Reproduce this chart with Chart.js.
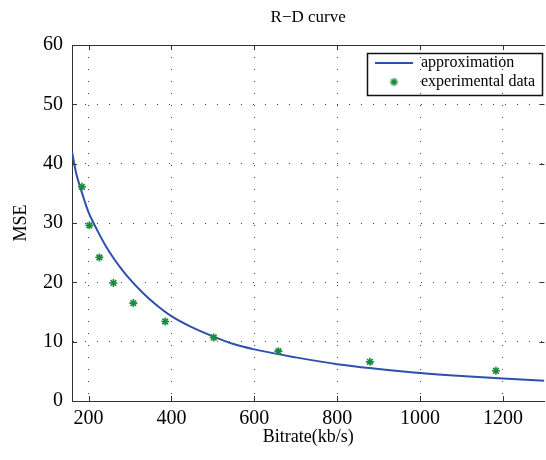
<!DOCTYPE html>
<html>
<head>
<meta charset="utf-8">
<style>
  html, body { margin: 0; padding: 0; background: #fff; overflow: hidden; }
  canvas { display: block; }
</style>
<script src="https://cdn.jsdelivr.net/npm/chart.js@4.4.1/dist/chart.umd.min.js"></script>
</head>
<body>
<canvas id="rd" width="550" height="460"></canvas>
<script>
// experimental points
const bitrate = [184, 202, 226, 260, 308, 385, 502, 658, 879, 1183];
const mse = [36.1, 29.6, 24.2, 19.9, 16.5, 13.4, 10.7, 8.4, 6.6, 5.1];

// approximation curve
const fitRate = [160, 170, 180, 190, 200, 212, 220, 240, 260, 280, 300, 330, 360, 400, 450, 500, 550, 600, 700, 800, 900, 1000, 1100, 1200, 1300];
const fitMse = [42.0, 38.4, 36.0, 33.8, 31.8, 30.0, 28.9, 26.3, 24.1, 22.2, 20.5, 18.3, 16.4, 14.3, 12.4, 10.9, 9.6, 8.7, 7.35, 6.2, 5.4, 4.72, 4.2, 3.78, 3.42];

const xTicks = [200, 400, 600, 800, 1000, 1200];
const yTicks = [0, 10, 20, 30, 40, 50, 60];

const serif = '"Liberation Serif", "Times New Roman", serif';
Chart.defaults.font.family = serif;
Chart.defaults.color = '#000';

const axisColor = '#333';
const starColor = '#178a3e';
const gridDots = { color: '#444', lineWidth: 1, drawTicks: false };

// small asterisk for the legend entry
const starImg = document.createElement('canvas');
starImg.width = 11; starImg.height = 11;
(function () {
  const c = starImg.getContext('2d');
  c.strokeStyle = starColor;
  c.lineWidth = 1.6;
  c.beginPath();
  c.moveTo(5.5, 1.5); c.lineTo(5.5, 9.5);
  c.moveTo(1.5, 5.5); c.lineTo(9.5, 5.5);
  c.moveTo(2.7, 2.7); c.lineTo(8.3, 8.3);
  c.moveTo(8.3, 2.7); c.lineTo(2.7, 8.3);
  c.stroke();
})();

// inward tick marks + legend frame
const matlabBox = {
  id: 'matlabBox',
  afterLayout(chart) {
    const lg = chart.legend;
    lg.left = 372; lg.right = 545;
    lg.top = 52; lg.bottom = 96;
  },
  afterDraw(chart) {
    const { ctx, chartArea: a, scales } = chart;
    ctx.save();
    ctx.strokeStyle = axisColor;
    ctx.lineWidth = 1;
    ctx.beginPath();
    xTicks.forEach(v => {
      const x = Math.round(scales.x.getPixelForValue(v)) + 0.5;
      ctx.moveTo(x, a.bottom); ctx.lineTo(x, a.bottom - 5);
      ctx.moveTo(x, a.top); ctx.lineTo(x, a.top + 5);
    });
    yTicks.forEach(v => {
      const y = Math.round(scales.y.getPixelForValue(v)) + 0.5;
      ctx.moveTo(a.left, y); ctx.lineTo(a.left + 5, y);
      ctx.moveTo(a.right, y); ctx.lineTo(a.right - 5, y);
    });
    ctx.stroke();
    ctx.lineWidth = 1.5;
    ctx.strokeStyle = '#111';
    ctx.strokeRect(367.5, 53.5, 175, 42);
    ctx.restore();
  }
};

new Chart(document.getElementById('rd'), {
  type: 'scatter',
  data: {
    datasets: [
      {
        label: 'approximation',
        data: fitRate.map((r, i) => ({ x: r, y: fitMse[i] })),
        showLine: true,
        borderColor: '#2f4fae',
        backgroundColor: '#2f4fae',
        borderWidth: 2,
        pointRadius: 0,
        pointStyle: 'line',
        cubicInterpolationMode: 'monotone',
        order: 1
      },
      {
        label: 'experimental data',
        data: bitrate.map((r, i) => ({ x: r, y: mse[i] })),
        pointStyle: 'star',
        pointRadius: 4,
        borderColor: starColor,
        backgroundColor: starColor,
        pointBorderWidth: 1.6,
        order: 0
      }
    ]
  },
  options: {
    responsive: false,
    animation: false,
    layout: { padding: 0 },
    plugins: {
      tooltip: { enabled: false },
      title: { display: false },
      legend: {
        position: 'chartArea',
        align: 'start',
        labels: {
          usePointStyle: true,
          pointStyleWidth: 38,
          padding: 3,
          color: '#000',
          font: { size: 16, family: serif },
          sort: (a, b) => a.datasetIndex - b.datasetIndex,
          generateLabels(chart) {
            const items = Chart.defaults.plugins.legend.labels.generateLabels(chart);
            items.forEach(it => { if (it.datasetIndex === 1) it.pointStyle = starImg; });
            return items;
          }
        }
      }
    },
    scales: {
      x: {
        type: 'linear',
        position: 'bottom',
        min: 160,
        max: 1300,
        afterFit: s => { s.height = 59; },
        afterBuildTicks: s => { s.ticks = xTicks.map(v => ({ value: v })); },
        ticks: { padding: 6, font: { size: 20 }, color: '#000', callback: v => String(v) },
        grid: gridDots,
        border: { display: true, color: axisColor, width: 1, dash: [1, 11] },
        title: { display: true, text: 'Bitrate(kb/s)', font: { size: 18 }, padding: { top: 0, bottom: 12 } }
      },
      top: {
        type: 'linear',
        position: 'top',
        min: 160,
        max: 1300,
        afterFit: s => { s.height = 45; },
        ticks: { display: false },
        grid: { drawOnChartArea: false, drawTicks: false },
        border: { display: true, color: axisColor, width: 1 },
        title: { display: true, text: 'R\u2212D curve', font: { size: 17 }, padding: { top: 7, bottom: 0 } }
      },
      y: {
        type: 'linear',
        position: 'left',
        min: 0,
        max: 60,
        afterFit: s => { s.width = 72; },
        afterBuildTicks: s => { s.ticks = yTicks.map(v => ({ value: v })); },
        ticks: { padding: 9, font: { size: 20 }, color: '#000', callback: v => String(v) },
        grid: gridDots,
        border: { display: true, color: axisColor, width: 1, dash: [1, 11] },
        title: { display: true, text: 'MSE', font: { size: 18 }, padding: { top: 10, bottom: 0 } }
      }
    }
  },
  plugins: [matlabBox]
});
</script>
</body>
</html>
